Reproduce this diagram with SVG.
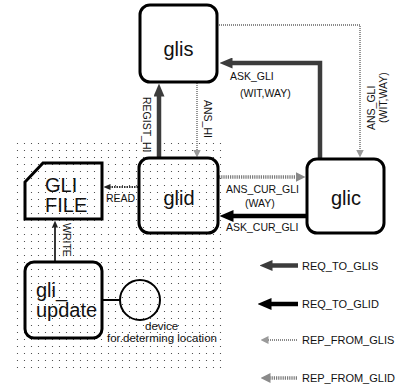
<svg xmlns="http://www.w3.org/2000/svg" width="405" height="386" viewBox="0 0 405 386">
<style>
text{font-family:"Liberation Sans",Arial,sans-serif;fill:#111}
.node{fill:none;stroke:#000;stroke-width:3}
.big{font-size:20px}
.lbl{font-size:10.5px}
.leg{font-size:11px}
.dev{font-size:11.5px}
.reqglis{fill:none;stroke:#3c3c3c;stroke-width:4.5}
.reqglid{fill:none;stroke:#000;stroke-width:4.5}
.repglis{fill:none;stroke:#8a8a8a;stroke-width:1.8;stroke-dasharray:1,1}
.repglid{fill:none;stroke:#7a7a7a;stroke-width:3.5;stroke-dasharray:1.2,1}
.thin{fill:none;stroke:#222;stroke-width:1.8}
.read{fill:none;stroke:#333;stroke-width:2;stroke-dasharray:1.5,1}
</style>
<defs>
<pattern id="dots" width="7" height="7" patternUnits="userSpaceOnUse">
<circle cx="3.5" cy="3.5" r="0.6" fill="#333"/>
</pattern>
<marker id="mGlis" viewBox="0 0 13 11" refX="0.5" refY="5.5" markerWidth="13" markerHeight="11" markerUnits="userSpaceOnUse" orient="auto">
<path d="M0,0 L13,5.5 L0,11 z" fill="#3c3c3c"/>
</marker>
<marker id="mGlid" viewBox="0 0 14 12" refX="0.5" refY="6" markerWidth="14" markerHeight="12" markerUnits="userSpaceOnUse" orient="auto">
<path d="M0,0 L14,6 L0,12 z" fill="#000"/>
</marker>
<marker id="mRepGlis" viewBox="0 0 8 8" refX="0.5" refY="4" markerWidth="8" markerHeight="8" markerUnits="userSpaceOnUse" orient="auto">
<path d="M0,0 L8,4 L0,8 z" fill="#9a9a9a"/>
</marker>
<marker id="mRepGlid" viewBox="0 0 10 10" refX="0.5" refY="5" markerWidth="10" markerHeight="10" markerUnits="userSpaceOnUse" orient="auto">
<path d="M0,0 L10,5 L0,10 z" fill="#8a8a8a"/>
</marker>
<marker id="mSmall" viewBox="0 0 7 6" refX="0.5" refY="3" markerWidth="7" markerHeight="6" markerUnits="userSpaceOnUse" orient="auto">
<path d="M0,0 L7,3 L0,6 z" fill="#222"/>
</marker>
</defs>

<rect id="dotted-area" x="15" y="140" width="210" height="228" fill="url(#dots)"/>

<g id="connectors">
<path id="ask-gli" class="reqglis" d="M320,158 L320,63 L232,63" marker-end="url(#mGlis)"/>
<path id="ans-gli" class="repglis" d="M219,25 L360,25 L360,150" marker-end="url(#mRepGlis)"/>
<path id="regist-hi" class="reqglis" d="M159,158 L159,96" marker-end="url(#mGlis)"/>
<path id="ans-hi" class="repglis" d="M197,83 L197,150" marker-end="url(#mRepGlis)"/>
<path id="ans-cur-gli" class="repglid" d="M219,177 L296,177" marker-end="url(#mRepGlid)"/>
<path id="ask-cur-gli" class="reqglid" d="M306,216 L233,216" marker-end="url(#mGlid)"/>
<path id="read" class="read" d="M138,187 L110,187" marker-end="url(#mSmall)"/>
<path id="write" class="thin" d="M55,262 L55,227" marker-end="url(#mSmall)"/>
<path id="device-link" fill="none" stroke="#000" stroke-width="2" d="M102,300 L120,300"/>

<text class="lbl" x="230" y="80">ASK_GLI</text>
<text class="lbl" x="240" y="97">(WIT,WAY)</text>
<text class="lbl" transform="translate(375,130) rotate(-90)">ANS_GLI</text>
<text class="lbl" transform="translate(387,123) rotate(-90)">(WIT,WAY)</text>
<text class="lbl" transform="translate(143,97) rotate(90)">REGIST_HI</text>
<text class="lbl" transform="translate(204,100) rotate(90)">ANS_HI</text>
<text class="lbl" x="226" y="193">ANS_CUR_GLI</text>
<text class="lbl" x="245" y="207">(WAY)</text>
<text class="lbl" x="226" y="231">ASK_CUR_GLI</text>
<text class="lbl" x="106" y="202" font-size="10">READ</text>
<text class="lbl" transform="translate(62.5,223) rotate(90)" font-size="9.5">WRITE</text>
</g>

<g id="glis">
<rect class="node" x="140" y="5" width="77" height="77" rx="10"/>
<text class="big" x="178.5" y="55.5" text-anchor="middle">glis</text>
</g>

<g id="glid">
<rect class="node" x="139" y="158" width="79" height="75" rx="10"/>
<text class="big" x="179" y="205" text-anchor="middle">glid</text>
</g>

<g id="glic">
<rect class="node" x="307" y="159" width="77" height="74" rx="10"/>
<text class="big" x="346" y="205" text-anchor="middle">glic</text>
</g>

<g id="gli-file">
<path class="node" d="M43,163 L102,163 L102,219 L25,219 L25,182 z"/>
<text class="big" x="45" y="192">GLI</text>
<text class="big" x="45" y="212">FILE</text>
</g>

<g id="gli-update">
<rect class="node" x="25" y="262" width="77" height="76" rx="9"/>
<text class="big" x="36" y="297">gli_</text>
<text class="big" x="36" y="317">update</text>
</g>

<g id="device">
<circle cx="140" cy="300" r="20" fill="none" stroke="#000" stroke-width="2"/>
<text class="dev" x="145" y="330">device</text>
<text class="dev" x="107" y="341.7">for.determing location</text>
</g>

<g id="legend">
<path class="reqglis" d="M298,265.5 L272,265.5" marker-end="url(#mGlis)"/>
<text class="leg" x="302" y="269.5">REQ_TO_GLIS</text>
<path class="reqglid" d="M298,304 L271,304" marker-end="url(#mGlid)"/>
<text class="leg" x="302" y="307.5">REQ_TO_GLID</text>
<path class="repglis" d="M297,340 L268,340" marker-end="url(#mRepGlis)"/>
<text class="leg" x="302" y="344">REP_FROM_GLIS</text>
<path class="repglid" d="M297,378 L270,378" marker-end="url(#mRepGlid)"/>
<text class="leg" x="302" y="382">REP_FROM_GLID</text>
</g>
</svg>
